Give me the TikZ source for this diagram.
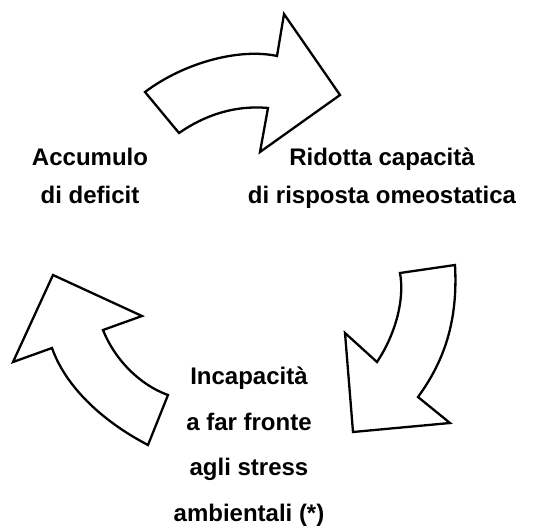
\documentclass[tikz,border=0pt]{standalone}
\usepackage{fontspec}
\setmainfont{Liberation Sans}
\begin{document}
\begin{tikzpicture}[x=1pt,y=-1pt,
  arrowshape/.style={draw=black,fill=white,line width=2.3pt,line join=miter},
  lbl/.style={font=\fontsize{24}{38}\selectfont\bfseries,align=center,inner sep=0pt,anchor=base},
  lblb/.style={font=\fontsize{24}{45.5}\selectfont\bfseries,align=center,inner sep=0pt,anchor=base}]
\useasboundingbox (0,0) rectangle (549,527);
% top arrow
\draw[arrowshape] (145,92) -- (179,133) .. controls (205,115) and (235,105) .. (268,108)
  -- (260,152) -- (340,95) -- (284,14) -- (277,56) .. controls (240,48) and (185,62) .. cycle;
% right arrow
\draw[arrowshape] (400,273) -- (455,265) .. controls (458,320) and (445,360) .. (418,397)
  -- (450,423) -- (353,432) -- (345,333) -- (377,362) .. controls (395,335) and (405,300) .. cycle;
% left arrow
\draw[arrowshape] (53,275) -- (142,316) -- (103,330) .. controls (115,360) and (140,385) .. (168,395)
  -- (148,445) .. controls (100,420) and (65,385) .. (52,348) -- (13,362) -- cycle;
% labels
\node[lbl] (acc) at (90,203) {Accumulo\\di deficit};
\node[lbl] (rid) at (382,203) {Ridotta capacità\\di risposta omeostatica};
\node[lblb] (inc) at (249,521) {Incapacità\\a far fronte\\agli stress\\ambientali (*)};
\end{tikzpicture}
\end{document}
